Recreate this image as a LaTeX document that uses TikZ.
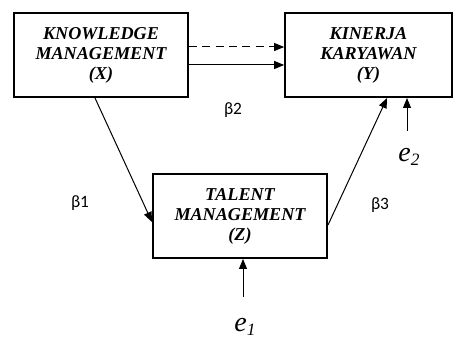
\documentclass[tikz,border=0pt]{standalone}
\usepackage{fontspec}
\setmainfont{Liberation Serif}
\newfontfamily\betafont{Carlito}
\usetikzlibrary{arrows.meta,calc}
\tikzset{
  box/.style={draw, line width=1.5pt, minimum width=130.5pt, minimum height=63pt,
    align=center, inner sep=0pt, font=\fontsize{13.6}{15}\selectfont\bfseries\itshape},
  arr/.style={line width=0.75pt, -{Triangle[length=7.5pt,width=6pt]}},
  coef/.style={inner sep=0.75pt, font=\fontsize{13}{15}\selectfont\betafont},
  err/.style={inner sep=0.75pt, font=\fontsize{21}{21}\selectfont\itshape}
}
\newcommand{\errlab}[1]{e\raisebox{-0.12em}{\fontsize{13}{13}\selectfont #1}}

\begin{document}
\begin{tikzpicture}[x=0.75pt,y=0.75pt,yscale=-1,xscale=1]
		\useasboundingbox (0,0) rectangle (454,342);

		% variables
		\node [box] (km) at (101,55) {KNOWLEDGE\\MANAGEMENT\\(X)};
		\node [box, minimum width=125pt] (kk) at (368.5,55) {KINERJA\\KARYAWAN\\(Y)};
		\node [box] (tm) at (240,216) {TALENT\\MANAGEMENT\\(Z)};

		% paths
		\draw [arr, dashed, dash pattern=on 6pt off 4pt] (km.east |- 0,47) -- (kk.west |- 0,47);
		\draw [arr] (km.east |- 0,65) -- (kk.west |- 0,65);
		\draw [arr] ([xshift=-4.5pt]km.south) -- ([yshift=4.5pt]tm.west);
		\draw [arr] ([yshift=6.75pt]tm.east) -- ([xshift=13.9pt]kk.south);

		% errors
		\coordinate (e2) at (407,131);
		\coordinate (e1) at (243,297);
		\draw [arr] (e2) -- (e2 |- kk.south);
		\draw [arr] (e1) -- (e1 |- tm.south);

		\draw (233,110) node [coef] {β2};
		\draw (80,203) node [coef] {β1};
		\draw (380,205) node [coef] {β3};
		\draw (409,157) node [err] {\errlab{2}};
		\draw (245,327) node [err] {\errlab{1}};
\end{tikzpicture}
\end{document}
